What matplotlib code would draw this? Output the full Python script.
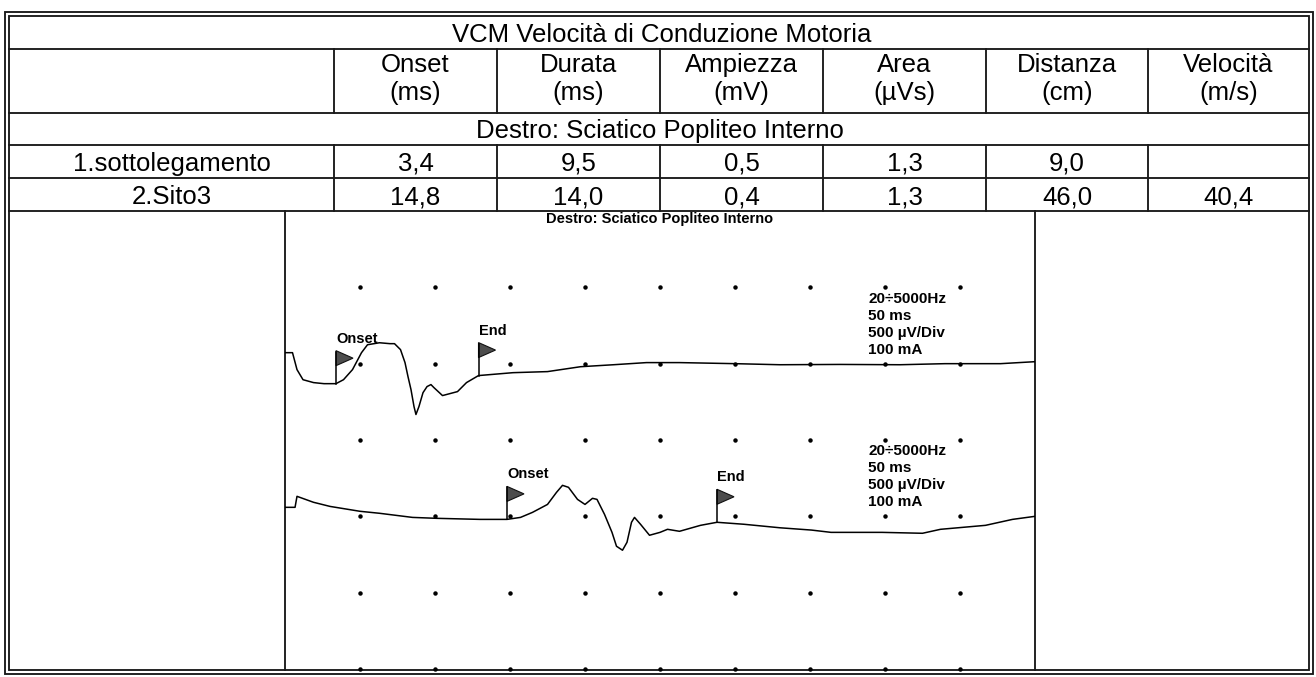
import numpy as np
import matplotlib
matplotlib.use('Agg')
import matplotlib.pyplot as plt
from matplotlib import transforms as mtransforms
from matplotlib.patches import Polygon, Rectangle

plt.rcParams['font.family'] = ['Liberation Sans', 'DejaVu Sans']

# --- dati della tabella ---
titolo = 'VCM Velocità di Conduzione Motoria'
sottotitolo = 'Destro: Sciatico Popliteo Interno'
colonne = ['Onset', 'Durata', 'Ampiezza', 'Area', 'Distanza', 'Velocità']
unita = ['(ms)', '(ms)', '(mV)', '(µVs)', '(cm)', '(m/s)']
siti = ['1.sottolegamento', '2.Sito3']
onset = [3.4, 14.8]
durata = [9.5, 14.0]
ampiezza = [0.5, 0.4]
area = [1.3, 1.3]
distanza = [9.0, 46.0]
velocita = [None, 40.4]

# --- tracce: tempo (ms) e ampiezza (µV) rispetto alla linea di base ---
t1_ms = [0.0, 0.5, 0.8, 1.2, 1.9, 2.6, 3.4, 3.9, 4.5, 5.1, 5.5, 6.3, 7.0, 7.3, 7.7,
         8.0, 8.2, 8.4, 8.6, 8.73, 8.93, 9.2, 9.47, 9.73, 9.93, 10.5, 11.0, 11.5, 12.1,
         12.9, 15.2, 17.5, 19.7, 21.9, 24.1, 26.3, 30.0, 33.0, 37.0, 41.0, 44.0, 47.7, 50.0]
t1_uv = [72, 72, -39, -105, -124, -131, -131, -105, -39, 72, 124, 137, 131, 131, 92,
         7, -85, -170, -281, -333, -281, -190, -150, -137, -157, -209, -196, -183, -124,
         -78, -59, -52, -20, -7, 7, 7, 0, -7, -5, -7, 0, 0, 13]
t2_ms = [0.0, 0.67, 0.8, 1.9, 3.0, 5.0, 6.3, 8.5, 10.1, 13.0, 14.8, 15.7, 16.5, 17.5, 18.1,
         18.5, 18.9, 19.5, 20.0, 20.5, 20.8, 21.3, 21.8, 22.1, 22.5, 22.8, 23.1, 23.3, 23.7,
         24.3, 25.0, 25.5, 26.3, 27.7, 28.8, 30.6, 33.0, 35.1, 36.4, 39.8, 42.5, 43.7, 46.7,
         48.5, 50.0]
t2_uv = [59, 59, 131, 92, 65, 33, 20, -7, -13, -20, -20, -7, 26, 78, 157,
         203, 190, 111, 78, 118, 111, 13, -105, -196, -222, -170, -39, -7, -52,
         -124, -105, -85, -98, -59, -39, -52, -75, -90, -105, -105, -111, -85, -59,
         -20, 0]
tracce = [(t1_ms, t1_uv), (t2_ms, t2_uv)]
linea_base = [2000, 1000]   # µV, posizione delle tracce sullo schermo
impostazioni = ['20÷5000Hz', '50 ms', '500 µV/Div', '100 mA']


def fmt(v):
    return '' if v is None else f'{v:.1f}'.replace('.', ',')


fig = plt.figure(figsize=(13.16, 6.77), dpi=100)
bg = fig.add_axes([0, 0, 1, 1])
bg.set_xlim(0, 1316)
bg.set_ylim(677, 0)
bg.axis('off')

lc = '#1a1a1a'
lw = 1.35
fs = 18.5

# bordo doppio
bg.add_patch(Rectangle((5, 12), 1308, 662, fill=False, ec=lc, lw=lw))
bg.add_patch(Rectangle((9, 16), 1300, 654, fill=False, ec=lc, lw=lw))

# righe
for y in [49, 113, 145, 178, 211]:
    bg.plot([9, 1309], [y, y], color=lc, lw=lw)
xs = [334, 497, 660, 823, 986, 1148, 1309]
for x in xs[:-1]:
    bg.plot([x, x], [49, 113], color=lc, lw=lw)
    bg.plot([x, x], [145, 211], color=lc, lw=lw)
for x in [285, 1035]:
    bg.plot([x, x], [211, 670], color=lc, lw=lw)

centri = [(a + b) / 2 for a, b in zip(xs[:-1], xs[1:])]

bg.text(662, 42, titolo, ha='center', va='baseline', fontsize=fs)
for c, n, u in zip(centri, colonne, unita):
    bg.text(c, 72, n, ha='center', va='baseline', fontsize=fs)
    bg.text(c, 100, u, ha='center', va='baseline', fontsize=fs)
bg.text(660, 138, sottotitolo, ha='center', va='baseline', fontsize=fs)

valori = [onset, durata, ampiezza, area, distanza, velocita]
for i, (sito, yb) in enumerate(zip(siti, [171, 204])):
    bg.text(171.5, yb, sito, ha='center', va='baseline', fontsize=fs)
    for c, serie in zip(centri, valori):
        bg.text(c, yb, fmt(serie[i]), ha='center', va='baseline', fontsize=fs)

# pannello delle tracce
bg.text(660, 219, sottotitolo, ha='center', va='center', fontsize=10.5,
        fontweight='bold')

ax = fig.add_axes([285 / 1316, 1 - 669 / 677, 750 / 1316, 458 / 677])
ax.axis('off')

gx, gy = np.meshgrid(np.arange(5, 50, 5), np.arange(0, 3000, 500))
ax.plot(gx.ravel(), gy.ravel(), 'o', ms=2.2, color='k', clip_on=False)


def bandierina(t, v, etichetta):
    tr = mtransforms.Affine2D() + mtransforms.ScaledTranslation(t, v, ax.transData)
    ax.plot([0, 0], [0, 32], transform=tr, color='k', lw=1.1)
    ax.add_patch(Polygon([(0, 33), (17, 25.5), (0, 18)], closed=True, transform=tr,
                         fc='#4d4d4d', ec='#111111', lw=0.8))
    ax.text(0, 45, etichetta, transform=tr, ha='left', va='center',
            fontsize=10.5, fontweight='bold')


for (ms, uv), base, t_on, dur in zip(tracce, linea_base, onset, durata):
    uv = np.array(uv) + base
    ax.plot(ms, uv, color='k', lw=1.1)
    bandierina(t_on, np.interp(t_on, ms, uv), 'Onset')
    bandierina(t_on + dur, np.interp(t_on + dur, ms, uv), 'End')
    for k, riga in enumerate(impostazioni):
        ax.annotate(riga, xy=(38.9, base), xytext=(0, 61 - 17 * k),
                    textcoords='offset pixels', ha='left', va='baseline',
                    fontsize=11, fontweight='bold')

ax.set_xlim(0, 50)
ax.set_ylim(0, 3000)

fig.savefig('out.png', dpi=100)
